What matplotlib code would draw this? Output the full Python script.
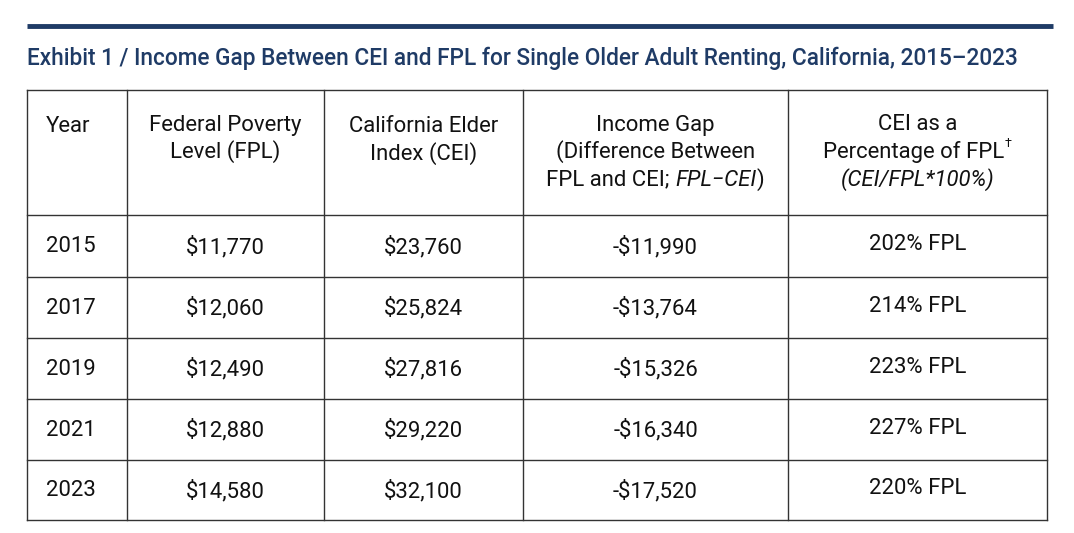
import matplotlib
matplotlib.use("Agg")
import matplotlib.pyplot as plt

years = ["2015", "2017", "2019", "2021", "2023"]
fpl = ["$11,770", "$12,060", "$12,490", "$12,880", "$14,580"]
cei = ["$23,760", "$25,824", "$27,816", "$29,220", "$32,100"]
gap = ["-$11,990", "-$13,764", "-$15,326", "-$16,340", "-$17,520"]
pct = ["202% FPL", "214% FPL", "223% FPL", "227% FPL", "220% FPL"]
title = "Exhibit 1 / Income Gap Between CEI and FPL for Single Older Adult Renting, California, 2015\u20132023"

W, H = 1074, 533
fig = plt.figure(figsize=(W/100, H/100), dpi=100)
ax = fig.add_axes([0, 0, 1, 1])
ax.set_xlim(0, W); ax.set_ylim(H, 0); ax.axis("off")
FONT = "Roboto"
FS = 15.9
navy = "#1f3b66"
ax.plot([27, 1053], [26, 26], color=navy, lw=3.5, solid_capstyle="butt")
ax.text(27, 58, title, fontsize=16.3, color=navy, family=FONT, weight="medium", va="center")

L, R, T, B = 27, 1047, 90, 520
cols = [L, 127, 324, 523, 788, R]
rows = [T, 215, 277, 338, 399, 460, B]
for x in cols:
    ax.plot([x, x], [T, B], color="#333", lw=1)
for y in rows:
    ax.plot([L, R], [y, y], color="#333", lw=1)

def txt(x, y, s, ha="center", style="normal"):
    ax.text(x, y, s, fontsize=FS, family=FONT, ha=ha, va="center", style=style, color="#111")

fig.canvas.draw()
rend = fig.canvas.get_renderer()

def seg_line(cx, y, segs):
    arts = []
    for s, st, sz in segs:
        a = ax.text(0, y, s, fontsize=sz, family=FONT, va="center" if sz == FS else "bottom",
                    style=st, color="#111")
        arts.append(a)
    widths = [a.get_window_extent(rend).width for a in arts]
    x = cx - sum(widths)/2
    for a, w, (s, st, sz) in zip(arts, widths, segs):
        a.set_x(x)
        if sz != FS:
            a.set_y(y - 2)
        x += w

centers = [(cols[i]+cols[i+1])/2 for i in range(5)]
txt(46, 127, "Year", ha="left")
txt(centers[1], 125, "Federal Poverty"); txt(centers[1], 152, "Level (FPL)")
txt(centers[2], 127, "California Elder"); txt(centers[2], 154, "Index (CEI)")
txt(centers[3], 125, "Income Gap"); txt(centers[3], 152, "(Difference Between")
seg_line(centers[3], 180, [("FPL and CEI; ", "normal", FS), ("FPL\u2212CEI", "italic", FS), (")", "normal", FS)])
txt(centers[4], 125, "CEI as a")
seg_line(centers[4], 152, [("Percentage of FPL", "normal", FS), ("\u2020", "normal", 9)])
txt(centers[4], 180, "(CEI/FPL*100%)", style="italic")

for i in range(5):
    y = (rows[i+1] + rows[i+2]) / 2 + 1
    txt(46, y, years[i], ha="left")
    txt(centers[1], y, fpl[i])
    txt(centers[2], y, cei[i])
    txt(centers[3], y, gap[i])
    txt(centers[4], y - 2, pct[i])

fig.savefig("out.png", dpi=100)
